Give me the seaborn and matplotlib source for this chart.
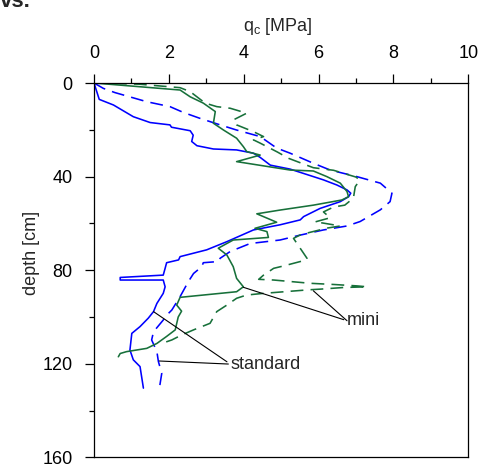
import matplotlib
matplotlib.use("Agg")
import matplotlib.pyplot as plt
import seaborn as sns

# ---- data ----
q_std1 = [0, 0.14, 0.52, 1.05, 1.5, 2.03, 2.07, 2.57, 2.65, 2.61, 2.75, 3.19, 3.81, 4.26, 4.44, 4.71, 5.24,
          5.86, 6.13, 6.49, 6.76, 6.86, 6.8, 6.58, 6.04, 5.6, 5.51, 4.97, 4.26, 3.55, 3.01, 2.3, 2.26, 1.94,
          1.9, 1.85, 0.7, 0.7, 1.85, 1.9, 1.85, 1.68, 1.59, 1.45, 1.23, 1.01, 0.96, 1.05, 1.23, 1.32]
d_std1 = [0, 7, 9.4, 14.4, 16.9, 17.9, 18.9, 20.4, 22.3, 25, 26.8, 28.2, 28.6, 30, 31.8, 35.1, 36.8,
          40, 41.4, 43.6, 45.7, 47.1, 48.6, 50.7, 53.6, 57.1, 58.5, 60.6, 62.8, 67.8, 71.3, 74.2, 75.6, 76.8,
          79.2, 82.1, 83.1, 84.2, 84.2, 87.1, 89.9, 94.2, 97.7, 100.5, 104.1, 107, 114.1, 118.3, 121.2, 130.4]

q_std2 = [0, 0.25, 0.56, 1.41, 2.03, 2.39, 2.83, 3.37, 3.81, 4.44, 4.88, 5.24, 5.86, 6.31, 7.02, 7.65, 7.96,
          7.91, 7.65, 7.11, 6.76, 6.13, 5.51, 4.97, 4.17, 3.64, 3.37, 3.32, 2.92, 2.88, 2.66, 2.52, 2.3, 2.08,
          1.9, 1.85, 1.59, 1.54, 1.68, 1.72, 1.81, 1.76]
d_std2 = [0, 2.3, 4.1, 8, 10.1, 12.6, 15.1, 17.9, 20.1, 22.9, 27.8, 30, 34.3, 37.2, 40, 42.8, 47.1,
          50.7, 54.2, 59.2, 61.1, 62.8, 65, 67.1, 68.6, 72, 74.9, 76.3, 76.8, 78.5, 81.4, 84.9, 91.3, 97,
          99.9, 101.3, 106.3, 109.8, 114.8, 119, 124.1, 129.1]

q_mini1 = [0, 2.3, 2.57, 2.92, 3.24, 3.19, 3.46, 3.81, 3.99, 4.08, 4.44, 3.81, 5.24, 5.86, 6.22, 6.58, 6.76,
           6.8, 6.62, 5.86, 4.97, 4.35, 4.88, 4.3, 4.62, 4.66, 3.72, 3.32, 3.55, 3.72, 3.81, 3.99, 3.81, 2.3,
           2.21, 2.34, 2.25, 2.17, 1.94, 1.68, 1.41, 0.87, 0.7, 0.65]
d_mini1 = [0, 3, 5.9, 8.6, 12.2, 17.2, 20.1, 23.6, 27.2, 29.3, 30.8, 33.6, 37.2, 37.6, 40, 42.8, 46.4,
           48.6, 50, 52.2, 54.3, 55.9, 59.5, 62.1, 63.5, 66, 67.1, 70.6, 73.5, 78.5, 83.5, 87.1, 89.2, 91.6,
           94.9, 97.5, 100, 105.5, 108.3, 111.3, 113.4, 114.8, 115.6, 117]

q_mini2 = [0, 1.2, 2.3, 2.57, 2.97, 3.28, 3.64, 4.08, 3.72, 3.81, 4.26, 4.53, 4.26, 4.44, 4.9, 5.2, 5.86,
           6.4, 7.0, 7.1, 6.98, 6.93, 6.7, 6.4, 6.13, 6.31, 5.9, 6.1, 6.58, 6.23, 5.7, 5.5, 5.33, 5.69, 5.69,
           5.51, 5.06, 4.8, 4.53, 4.4, 4.8, 5.78, 6.4, 7.02, 7.3, 6.66, 6.04, 5.72, 4.53, 4.08, 3.81, 3.55,
           3.28, 3.1, 2.88, 2.66, 2.34, 2.08, 1.81]
d_mini2 = [0, 0.5, 2, 3.7, 8.6, 10.1, 10.8, 12.9, 15.8, 17.9, 20.8, 22.9, 24.3, 25.7, 29.5, 32.2, 36.2,
           37.3, 40.2, 41.5, 44.3, 49.2, 52.2, 53, 55.1, 57.6, 59.4, 59.8, 61.1, 62, 64.1, 65, 66.4, 74.9, 75.6,
           76.3, 78.2, 79.2, 82.1, 83.9, 84.2, 85.6, 86.1, 86.7, 87.1, 87.4, 88.1, 88.4, 89.9, 90.6, 92, 94.9,
           97.7, 102.7, 104.1, 105.5, 107.7, 109.8, 111.3]

x_ticks = [0, 2, 4, 6, 8, 10]
y_ticks = [0, 40, 80, 120, 160]

# ---- style ----
sns.set_style("ticks")
plt.rcParams['font.family'] = ['Liberation Sans', 'DejaVu Sans']
plt.rcParams['mathtext.fontset'] = 'custom'
plt.rcParams['mathtext.rm'] = 'Liberation Sans'
plt.rcParams['mathtext.it'] = 'Liberation Sans'

BLUE = '#0000ff'
GREEN = '#17703a'
LW = 1.15
DASH = (0, (8, 4.5))

fig = plt.figure(figsize=(4.8, 4.66), dpi=100)
ax = fig.add_axes([94 / 480, 1 - 457.4 / 466, 374.3 / 480, 374.4 / 466])

sns.lineplot(x=q_std1, y=d_std1, sort=False, estimator=None, color=BLUE, lw=LW, ax=ax)
sns.lineplot(x=q_std2, y=d_std2, sort=False, estimator=None, color=BLUE, lw=LW, linestyle=DASH, ax=ax)
sns.lineplot(x=q_mini1, y=d_mini1, sort=False, estimator=None, color=GREEN, lw=LW, ax=ax)
sns.lineplot(x=q_mini2, y=d_mini2, sort=False, estimator=None, color=GREEN, lw=LW, linestyle=DASH, ax=ax)

ax.set_xlim(0, 10)
ax.set_ylim(160, 0)
ax.xaxis.tick_top()
ax.xaxis.set_label_position('top')
ax.set_xticks(x_ticks)
ax.set_yticks(y_ticks)
ax.set_xticks([1, 3, 5, 7, 9], minor=True)
ax.set_yticks([20, 60, 100, 140], minor=True)
ax.tick_params(axis='both', which='major', direction='out', length=6.5, width=0.9,
               labelsize=13, color='black', labelcolor='black')
ax.tick_params(axis='x', which='major', pad=8.5)
ax.tick_params(axis='y', which='major', pad=9)
ax.tick_params(axis='both', which='minor', direction='out', length=3.6, width=0.9, color='black')
ax.tick_params(axis='x', which='both', top=True, bottom=False)

for s in ax.spines.values():
    s.set_visible(True)
    s.set_color('black')
    s.set_linewidth(0.9)

ax.set_xlabel(r'q$_\mathrm{c}$ [MPa]', fontsize=13)
ax.set_ylabel('depth [cm]', fontsize=13)
ax.xaxis.set_label_coords(0.49, 1.152)
ax.xaxis.label.set_va('center')
ax.yaxis.set_label_coords(-0.167, 0.545)
ax.yaxis.label.set_va('center')

arrow = dict(arrowstyle='-', color='black', lw=0.8, shrinkA=0, shrinkB=0)
ax.annotate('mini', xy=(3.99, 87.3), xytext=(6.76, 101.6), fontsize=13, va='center', ha='left',
            arrowprops=dict(arrow, relpos=(0, 0.5)))
ax.annotate('', xy=(5.86, 88.8), xytext=(6.76, 101.6), arrowprops=arrow)
ax.annotate('standard', xy=(1.59, 97.7), xytext=(3.64, 120.1), fontsize=13, va='center', ha='left',
            arrowprops=dict(arrow, relpos=(0, 0.5)))
ax.annotate('', xy=(1.74, 118.8), xytext=(3.59, 120.1), arrowprops=arrow)

fig.text(0.0, 1 - 7 / 466, 'vs.', fontsize=16, fontweight='bold', ha='left', va='baseline')

fig.savefig('out.png', dpi=100)
